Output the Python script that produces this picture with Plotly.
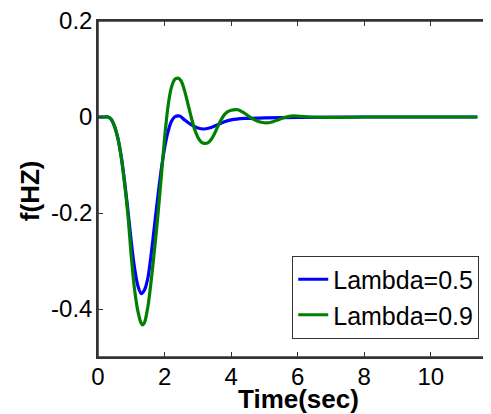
import plotly.graph_objects as go

# Time samples (sec) and responses
t_05 = [0, 0.2, 0.3, 0.4, 0.5, 0.6, 0.7, 0.8, 0.9, 1.0, 1.1, 1.2, 1.3, 1.4, 1.5, 1.6,
        1.7, 1.8, 1.9, 2.0, 2.1, 2.2, 2.3, 2.45, 2.6, 2.8, 3.0, 3.2, 3.4, 3.6, 3.8,
        4.0, 4.4, 5.0, 6.0, 8.0, 10.0, 11.4]
f_05 = [0, 0, 0, -0.005, -0.02, -0.045, -0.083, -0.135, -0.195, -0.26, -0.315, -0.352,
        -0.368, -0.36, -0.335, -0.285, -0.225, -0.165, -0.11, -0.065, -0.032, -0.01,
        0.0, 0.002, -0.006, -0.016, -0.023, -0.025, -0.022, -0.016, -0.01,
        -0.006, -0.003, -0.002, -0.001, 0, 0, 0]

t_09 = [0, 0.2, 0.3, 0.4, 0.5, 0.6, 0.7, 0.8, 0.9, 1.0, 1.1, 1.2, 1.3, 1.35, 1.4, 1.5,
        1.6, 1.7, 1.8, 1.9, 2.0, 2.1, 2.2, 2.3, 2.4, 2.5, 2.6, 2.7, 2.8, 2.9, 3.0,
        3.1, 3.2, 3.3, 3.4, 3.5, 3.6, 3.7, 3.8, 3.9, 4.0, 4.2, 4.4, 4.6, 4.8, 5.0,
        5.2, 5.4, 5.6, 5.8, 6.0, 6.4, 7.0, 8.0, 9.0, 10.0, 11.4]
f_09 = [0, 0, 0, -0.005, -0.02, -0.045, -0.085, -0.14, -0.205, -0.29, -0.36, -0.405,
        -0.43, -0.433, -0.428, -0.395, -0.34, -0.275, -0.205, -0.125, -0.045, 0.02,
        0.06, 0.078, 0.081, 0.075, 0.055, 0.028, 0.0, -0.025, -0.042, -0.052,
        -0.055, -0.054, -0.047, -0.035, -0.02, -0.006, 0.005, 0.011, 0.014, 0.015,
        0.008, -0.002, -0.009, -0.012, -0.011, -0.006, -0.001, 0.002, 0.002, 0.0,
        -0.001, 0, 0, 0, 0]

series_names = ["Lambda=0.5", "Lambda=0.9"]
x_ticks = [0, 2, 4, 6, 8, 10]
y_ticks = [-0.4, -0.2, 0, 0.2]
y_tick_text = ["-0.4", "-0.2", "0", "0.2"]
x_title = "Time(sec)"
y_title = "f(HZ)"

FONT = "Liberation Sans, Arial"

fig = go.Figure()
fig.add_trace(go.Scatter(x=t_05, y=f_05, mode="lines", name=series_names[0],
                         line=dict(color="#0000ff", width=3.2, shape="spline", smoothing=0.8)))
fig.add_trace(go.Scatter(x=t_09, y=f_09, mode="lines", name=series_names[1],
                         line=dict(color="#008000", width=3.2, shape="spline", smoothing=0.8)))

axis_common = dict(showline=True, linecolor="#333333", linewidth=1.5, mirror="allticks",
                   ticks="inside", ticklen=5, tickcolor="#333333", showgrid=False,
                   zeroline=False, automargin=False, ticklabeloverflow="allow",
                   tickfont=dict(family=FONT, size=24, color="black"))

# page body has an 8px margin, so the figure is sized 8px smaller
fig.update_layout(
    width=483, height=406,
    margin=dict(l=90, r=2, t=13, b=57, autoexpand=False),
    paper_bgcolor="white", plot_bgcolor="white",
    xaxis=dict(range=[0, 11.75], tickvals=x_ticks, ticktext=[str(v) for v in x_ticks],
               ticklabelstandoff=-3, **axis_common),
    yaxis=dict(range=[-0.5, 0.2], tickvals=y_ticks, ticktext=y_tick_text,
               ticklabelstandoff=-1, **axis_common),
    legend=dict(x=0.975, y=0.055, xanchor="right", yanchor="bottom",
                bgcolor="white", bordercolor="#333333", borderwidth=1,
                font=dict(family=FONT, size=25, color="black"),
                itemwidth=30, tracegroupgap=0),
    showlegend=True,
    shapes=[dict(type="rect", xref="paper", yref="paper", x0=0, x1=1, y0=0, y1=1,
                 line=dict(color="#333333", width=1.5), layer="above")],
    annotations=[
        dict(text="<b>" + x_title + "</b>", xref="paper", yref="paper",
             x=(299 - 98) / 392, y=(356 - 398) / 336, xanchor="center", yanchor="middle",
             showarrow=False, font=dict(family=FONT, size=26, color="black")),
        dict(text="<b>" + y_title + "</b>", xref="paper", yref="paper",
             x=(30 - 98) / 392, y=(356 - 190) / 336, xanchor="center", yanchor="middle",
             textangle=-90, showarrow=False, font=dict(family=FONT, size=26, color="black")),
    ],
)

fig.write_html("out.html", config={"displayModeBar": False})
